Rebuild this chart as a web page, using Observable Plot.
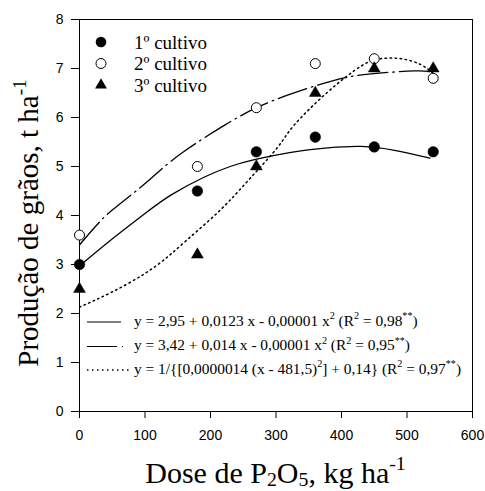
<!DOCTYPE html>
<html><head><meta charset="utf-8">
<script src="https://cdn.jsdelivr.net/npm/d3@7"></script>
<script src="https://cdn.jsdelivr.net/npm/@observablehq/plot@0.6"></script>
<style>body{margin:0;background:#fff} #chart svg{display:block}</style>
</head><body><div id="chart"></div>
<script>
// Observed data
const doses = [0, 180, 270, 360, 450, 540];
const cultivo1 = [3.0, 4.5, 5.3, 5.6, 5.4, 5.3];
const cultivo2 = [3.6, 5.0, 6.2, 7.1, 7.2, 6.8];
const cultivo3 = [2.5, 3.2, 5.0, 6.5, 7.0, 7.0];
const seriesNames = ["1º cultivo", "2º cultivo", "3º cultivo"];

// Fitted curves
const fit1X = [0, 47, 98, 140, 190, 230, 267, 323, 379, 430, 481, 535];
const fit1Y = [2.97, 3.49, 4.02, 4.42, 4.78, 5.0, 5.14, 5.29, 5.38, 5.41, 5.33, 5.17];
const fit2X = [0, 26, 49, 90, 123, 160, 221, 272, 323, 389, 445, 511, 540];
const fit2Y = [3.4, 3.8, 4.1, 4.54, 4.92, 5.31, 5.84, 6.21, 6.48, 6.76, 6.89, 6.95, 6.93];
const fit3X = [0, 47, 98, 134, 164, 198, 229, 262, 303, 328, 379, 430, 460, 491, 521, 540];
const fit3Y = [2.13, 2.42, 2.8, 3.15, 3.5, 3.9, 4.3, 4.78, 5.4, 5.85, 6.52, 7.05, 7.2, 7.2, 7.08, 6.9];

const xTicks = [0, 100, 200, 300, 400, 500, 600];
const yTicks = [0, 1, 2, 3, 4, 5, 6, 7, 8];

const eqTexts = [
  [["y = 2,95 + 0,0123 x - 0,00001 x"], ["2", "sup"], [" (R"], ["2", "sup"], [" = 0,98"], ["**", "sup"], [")"]],
  [["y = 3,42 + 0,014 x - 0,00001 x"], ["2", "sup"], [" (R"], ["2", "sup"], [" = 0,95"], ["**", "sup"], [")"]],
  [["y = 1/{[0,0000014 (x - 481,5)"], ["2", "sup"], ["] + 0,14} (R"], ["2", "sup"], [" = 0,97"], ["**", "sup"], [")"]]
];
const xTitle = [["Dose de P"], ["2", "sub"], ["O"], ["5", "sub"], [", kg ha"], ["-1", "sup"]];
const yTitle = [["Produção de grãos, t ha"], ["-1", "sup"]];

const dashStyles = [null, "30,5,1.5,5", "1.5,3.5"];

const toRows = (xs, ys) => xs.map((x, i) => ({x, y: ys[i]}));
const serif = "'Liberation Serif', 'Times New Roman', serif";

const plot = Plot.plot({
  width: 485, height: 491,
  marginLeft: 79, marginRight: 13, marginTop: 19, marginBottom: 80,
  style: {fontFamily: "'Liberation Sans', Arial, sans-serif", fontSize: "14px", color: "black", background: "white", overflow: "visible"},
  x: {domain: [0, 600], ticks: xTicks, tickSize: 7, tickPadding: 12, label: null, tickFormat: d => String(d)},
  y: {domain: [0, 8], ticks: yTicks, tickSize: 8, tickPadding: 8, label: null},
  marks: [
    Plot.frame({stroke: "black", strokeWidth: 1}),
    Plot.line(toRows(fit1X, fit1Y), {x: "x", y: "y", curve: "natural", stroke: "black", strokeWidth: 1.3}),
    Plot.line(toRows(fit2X, fit2Y), {x: "x", y: "y", curve: "natural", stroke: "black", strokeWidth: 1.3, strokeDasharray: dashStyles[1]}),
    Plot.line(toRows(fit3X, fit3Y), {x: "x", y: "y", curve: "natural", stroke: "black", strokeWidth: 1.5, strokeDasharray: dashStyles[2]}),
    Plot.dot(toRows(doses, cultivo1), {x: "x", y: "y", r: 5.3, fill: "black", stroke: "black", strokeWidth: 0.5}),
    Plot.dot(toRows(doses, cultivo2), {x: "x", y: "y", r: 5, fill: "white", stroke: "black", strokeWidth: 1}),
    Plot.dot(toRows(doses, cultivo3), {x: "x", y: "y", r: 4.4, symbol: "triangle", fill: "black", stroke: "black", strokeWidth: 0.5})
  ]
});
document.getElementById("chart").appendChild(plot);

const svg = d3.select(plot);

function richText(g, x, y, segs, size, anchor, subShift) {
  const t = g.append("text").attr("x", x).attr("y", y)
    .attr("font-family", serif).attr("font-size", size).attr("fill", "black")
    .attr("text-anchor", anchor || "start")
    .style("white-space", "pre");
  let shift = 0;
  for (const [str, mode] of segs) {
    const target = mode === "sup" ? -0.42 * size : mode === "sub" ? (subShift || 0.2) * size : 0;
    const ts = t.append("tspan").text(str).attr("dy", target - shift);
    if (mode) ts.attr("font-size", size * 0.66);
    shift = target;
  }
  return t;
}

// Top-left symbol legend
const lg = svg.append("g").attr("text-anchor", "start");
const legY = [42, 63.5, 85];
lg.append("circle").attr("cx", 101).attr("cy", legY[0]).attr("r", 5.3).attr("fill", "black");
lg.append("circle").attr("cx", 101).attr("cy", legY[1]).attr("r", 5).attr("fill", "white").attr("stroke", "black");
lg.append("path").attr("d", d3.symbol(d3.symbolTriangle, Math.PI * 4.4 * 4.4)())
  .attr("transform", `translate(101,${legY[2]})`).attr("fill", "black");
seriesNames.forEach((name, i) => {
  lg.append("text").attr("x", 134).attr("y", legY[i] + 6.5).attr("text-anchor", "start")
    .attr("font-family", serif).attr("font-size", 19).attr("fill", "black").text(name);
});

// Equation legend
const eg = svg.append("g").attr("text-anchor", "start");
const eqY = [322, 346.5, 370];
eqTexts.forEach((segs, i) => {
  const line = eg.append("line").attr("x1", 87).attr("x2", i === 1 ? 123 : i === 2 ? 129 : 121)
    .attr("y1", eqY[i]).attr("y2", eqY[i]).attr("stroke", "black").attr("stroke-width", i === 2 ? 1.5 : 1.2);
  if (dashStyles[i]) line.attr("stroke-dasharray", dashStyles[i]);
  richText(eg, 134, eqY[i] + 3.5, segs, 15.4, "start");
});

// Axis titles
richText(svg, 275.5, 482.5, xTitle, 30, "middle", 0.12);
richText(svg, 0, 0, yTitle, 29, "middle").attr("transform", "translate(38,223) rotate(-90)");
</script>
</body></html>
